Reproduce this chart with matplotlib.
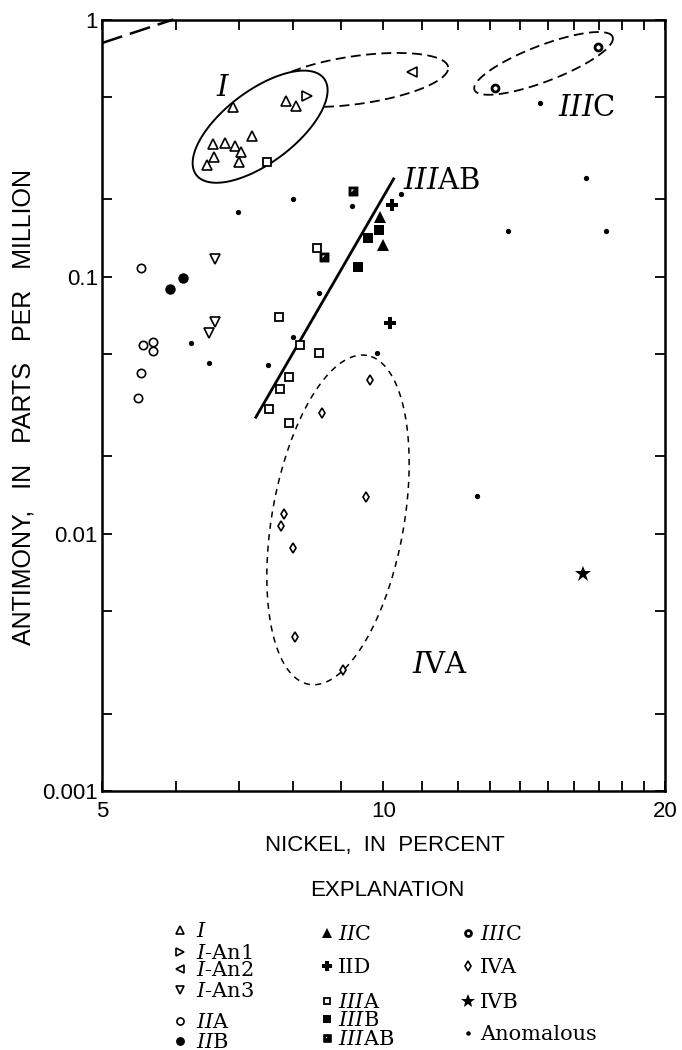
import numpy as np
import matplotlib
matplotlib.use('Agg')
import matplotlib.pyplot as plt
from matplotlib.lines import Line2D
from matplotlib.path import Path

plt.rcParams['mathtext.fontset'] = 'custom'
plt.rcParams['mathtext.rm'] = 'DejaVu Serif'
plt.rcParams['mathtext.it'] = 'DejaVu Serif:italic'

SANS = 'Liberation Sans'
SERIF = 'DejaVu Serif'

# --- data: nickel (percent) and antimony (ppm) ---
I_NI = [6.90, 6.57, 6.77, 6.94, 7.04, 7.23, 6.59, 6.47, 7.00, 7.86, 8.06]
I_SB = [0.455, 0.328, 0.330, 0.321, 0.306, 0.353, 0.291, 0.272, 0.280, 0.483, 0.459]
IAN1_NI = [8.29]
IAN1_SB = [0.502]
IAN2_NI = [10.72]
IAN2_SB = [0.627]
IAN3_NI = [6.60, 6.61, 6.51]
IAN3_SB = [0.1168, 0.0668, 0.0603]
IIA_NI = [5.50, 5.53, 5.67, 5.67, 5.51, 5.47]
IIA_SB = [0.108, 0.054, 0.0559, 0.0516, 0.0423, 0.0337]
IIB_NI = [6.11, 5.91]
IIB_SB = [0.099, 0.0893]
IIC_NI = [9.92, 10.0]
IIC_SB = [0.171, 0.1328]
IID_NI = [10.2, 10.15]
IID_SB = [0.190, 0.0659]
IIIA_NI = [7.50, 8.49, 7.74, 8.15, 8.54, 7.93, 7.75, 7.55, 7.92]
IIIA_SB = [0.279, 0.129, 0.0695, 0.054, 0.0504, 0.0408, 0.0365, 0.0305, 0.0269]
IIIB_NI = [9.90, 9.62, 9.38]
IIIB_SB = [0.152, 0.141, 0.109]
IIIAB_NI = [9.27, 8.64]
IIIAB_SB = [0.216, 0.1196]
IIIC_NI = [13.16, 16.95]
IIIC_SB = [0.540, 0.780]
IVA_NI = [8.59, 9.67, 9.58, 7.83, 7.77, 8.01, 8.04, 9.06]
IVA_SB = [0.0294, 0.0397, 0.01395, 0.0119, 0.01076, 0.00879, 0.00396, 0.00296]
IVB_NI = [16.34]
IVB_SB = [0.00698]
ANOM_NI = [8.0, 6.99, 8.54, 14.71, 9.26, 10.44, 16.47, 13.6, 17.29,
           6.22, 6.51, 7.52, 8.01, 9.83, 12.58]
ANOM_SB = [0.201, 0.178, 0.0867, 0.472, 0.188, 0.2097, 0.241, 0.1505, 0.1505,
           0.0554, 0.046, 0.0454, 0.0584, 0.0504, 0.01404]

# IIIAB trend line and the dashed line in the upper left corner
TREND_NI = [7.29, 10.27]
TREND_SB = [0.0281, 0.2426]
CORNER_NI = [5.0, 5.96]
CORNER_SB = [0.81, 1.0]

X_TICKS = [5, 10, 20]
X_MINOR = [6, 7, 8, 9, 11, 12, 13, 14, 15, 16, 17, 18, 19]
Y_TICKS = [0.001, 0.01, 0.1, 1]
Y_TICKLABELS = ['0.001', '0.01', '0.1', '1']
Y_MINOR = [0.002, 0.005, 0.02, 0.05, 0.2, 0.5]

# square with a white notch in the upper left corner (IIIAB)
HALF_SQUARE = Path(
    [(-1, -1), (1, -1), (1, 1), (-1, 1), (-1, -1),
     (-0.55, 0.55), (0.35, 0.55), (-0.55, -0.35), (-0.55, 0.55)],
    [Path.MOVETO, Path.LINETO, Path.LINETO, Path.LINETO, Path.CLOSEPOLY,
     Path.MOVETO, Path.LINETO, Path.LINETO, Path.CLOSEPOLY])

# marker styles per group
STYLES = {
    'I': dict(marker='^', ms=7, mfc='white', mec='black', mew=1.2),
    'IAN1': dict(marker='>', ms=7, mfc='white', mec='black', mew=1.2),
    'IAN2': dict(marker='<', ms=7, mfc='white', mec='black', mew=1.2),
    'IAN3': dict(marker='v', ms=7, mfc='white', mec='black', mew=1.2),
    'IIA': dict(marker='o', ms=6, mfc='white', mec='black', mew=1.2),
    'IIB': dict(marker='o', ms=7.5, mfc='black', mec='black', mew=0),
    'IIC': dict(marker='^', ms=8, mfc='black', mec='black', mew=0),
    'IID': dict(marker='P', ms=9, mfc='black', mec='black', mew=0),
    'IIIA': dict(marker='s', ms=5.5, mfc='white', mec='black', mew=1.3),
    'IIIB': dict(marker='s', ms=6.5, mfc='black', mec='black', mew=0),
    'IIIAB': dict(marker=HALF_SQUARE, ms=6.5, mfc='black', mec='black', mew=0.6),
    'IIIC': dict(marker='o', ms=5, mfc='white', mec='black', mew=2.0),
    'IVA': dict(marker='d', ms=5.5, mfc='white', mec='black', mew=1.2),
    'IVB': dict(marker='*', ms=12, mfc='black', mec='black', mew=0),
    'ANOM': dict(marker='o', ms=3.8, mfc='black', mec='black', mew=0),
}

W, H = 682, 1050


def fx(px):
    return px / W


def fy(py):
    return 1 - py / H


def blob(ax, cx, cy, a, b, ang):
    """Ellipse drawn in screen pixels around a data point (log axes)."""
    t = np.linspace(0, 2 * np.pi, 300)
    px, py = ax.transData.transform((cx, cy))
    r = np.deg2rad(ang)
    dx, dy = a * np.cos(t), b * np.sin(t)
    X = px + dx * np.cos(r) - dy * np.sin(r)
    Y = py + dx * np.sin(r) + dy * np.cos(r)
    pts = ax.transData.inverted().transform(np.column_stack([X, Y]))
    return pts[:, 0], pts[:, 1]


fig = plt.figure(figsize=(W / 100, H / 100), dpi=100)
ax = fig.add_axes([fx(102), fy(791), (665 - 102) / W, (791 - 19.5) / H])
ax.set_xscale('log')
ax.set_yscale('log')
ax.set_xlim(5, 20)
ax.set_ylim(0.001, 1)

ax.set_xticks(X_TICKS)
ax.set_xticklabels([str(v) for v in X_TICKS])
ax.set_xticks(X_MINOR, minor=True)
ax.set_xticklabels([], minor=True)
ax.set_yticks(Y_TICKS)
ax.set_yticklabels(Y_TICKLABELS)
ax.set_yticks(Y_MINOR, minor=True)
ax.set_yticklabels([], minor=True)
ax.tick_params(which='both', direction='in', length=7, width=1.3,
               top=True, right=True, labelsize=16)
ax.tick_params(axis='x', pad=7)
ax.tick_params(axis='y', pad=3)
for lab in ax.get_xticklabels() + ax.get_yticklabels():
    lab.set_fontfamily(SANS)
for sp in ax.spines.values():
    sp.set_linewidth(1.8)

# envelopes (the solid group I outline is white-filled so it hides the dashed one)
x, y = blob(ax, 9.37, 0.582, 92, 24, 8)
ax.plot(x, y, color='black', lw=1.3, dashes=(5.5, 3), zorder=2)
x, y = blob(ax, 14.83, 0.675, 74, 18, 21)
ax.plot(x, y, color='black', lw=1.3, dashes=(5.5, 3), zorder=2)
x, y = blob(ax, 8.94, 0.01133, 167, 66, 80)
ax.plot(x, y, color='black', lw=1.1, dashes=(4, 3.5), zorder=2)
x, y = blob(ax, 7.38, 0.383, 80, 36, 37)
ax.fill(x, y, facecolor='white', edgecolor='black', lw=1.4, zorder=3)

ax.plot(CORNER_NI, CORNER_SB, color='black', lw=1.8, dashes=(8.5, 3.2),
        clip_on=False, zorder=2)
ax.plot(TREND_NI, TREND_SB, color='black', lw=2.0, solid_capstyle='butt',
        zorder=4)

groups = [
    ('I', I_NI, I_SB), ('IAN1', IAN1_NI, IAN1_SB), ('IAN2', IAN2_NI, IAN2_SB),
    ('IAN3', IAN3_NI, IAN3_SB), ('IIA', IIA_NI, IIA_SB), ('IIB', IIB_NI, IIB_SB),
    ('IIC', IIC_NI, IIC_SB), ('IID', IID_NI, IID_SB), ('IIIA', IIIA_NI, IIIA_SB),
    ('IIIB', IIIB_NI, IIIB_SB), ('IIIAB', IIIAB_NI, IIIAB_SB),
    ('IIIC', IIIC_NI, IIIC_SB), ('IVA', IVA_NI, IVA_SB), ('IVB', IVB_NI, IVB_SB),
    ('ANOM', ANOM_NI, ANOM_SB),
]
for key, xs, ys in groups:
    ax.plot(xs, ys, linestyle='none', zorder=5, **STYLES[key])

# group names inside the plot
ax.text(6.74, 0.54, r'$\mathit{I}$', fontsize=21, fontfamily=SERIF,
        ha='center', va='center')
ax.text(10.5, 0.236, r'$\mathit{III}$AB', fontsize=21, fontfamily=SERIF,
        ha='left', va='center')
ax.text(16.5, 0.452, r'$\mathit{III}$C', fontsize=21, fontfamily=SERIF,
        ha='center', va='center')
ax.text(11.5, 0.0031, r'$\mathit{I}$VA', fontsize=21, fontfamily=SERIF,
        ha='center', va='center')

# axis titles
fig.text(fx(385), fy(845), 'NICKEL,  IN  PERCENT', fontsize=16,
         fontfamily=SANS, ha='center', va='center')
fig.text(fx(24), fy(407), 'ANTIMONY,   IN   PARTS   PER   MILLION',
         fontsize=18, fontfamily=SANS, ha='center', va='center', rotation=90)

# explanation (legend)
fig.text(fx(387), fy(891), 'EXPLANATION', fontsize=16, fontfamily=SANS,
         ha='center', va='center')

legend_rows = [
    ('I', r'$\mathit{I}$', 180, 196, 930),
    ('IAN1', r'$\mathit{I}$-An1', 180, 196, 952),
    ('IAN2', r'$\mathit{I}$-An2', 180, 196, 969),
    ('IAN3', r'$\mathit{I}$-An3', 180, 196, 990),
    ('IIA', r'$\mathit{II}$A', 180, 196, 1021),
    ('IIB', r'$\mathit{II}$B', 180, 196, 1041),
    ('IIC', r'$\mathit{II}$C', 327, 338, 933),
    ('IID', 'IID', 327, 338, 966),
    ('IIIA', r'$\mathit{III}$A', 327, 338, 1001),
    ('IIIB', r'$\mathit{III}$B', 327, 338, 1019),
    ('IIIAB', r'$\mathit{III}$AB', 327, 338, 1038),
    ('IIIC', r'$\mathit{III}$C', 468, 480, 933),
    ('IVA', 'IVA', 468, 480, 966),
    ('IVB', 'IVB', 468, 480, 1001),
    ('ANOM', 'Anomalous', 468, 480, 1033),
]
for key, label, mx, tx, ry in legend_rows:
    st = dict(STYLES[key])
    st['ms'] = st['ms'] * 0.85
    fig.add_artist(Line2D([fx(mx)], [fy(ry)], linestyle='none',
                          transform=fig.transFigure, **st))
    fig.text(fx(tx), fy(ry + 7), label, fontsize=15, fontfamily=SERIF,
             ha='left', va='baseline')

fig.savefig('out.png', dpi=100)
